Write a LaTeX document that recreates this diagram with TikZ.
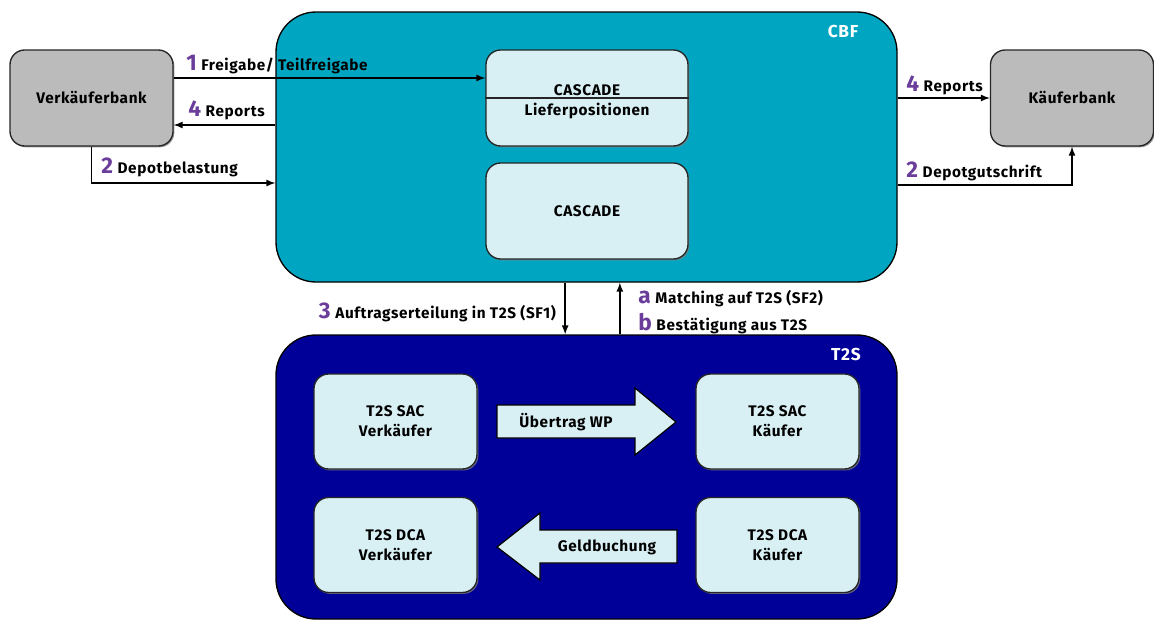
\documentclass[tikz,border=0pt]{standalone}
\usepackage{xcolor}
\usepackage{fontspec}
\setmainfont{Fira Sans}[LetterSpace=4]
\usepackage{tikz}
\usetikzlibrary{shadows, positioning, arrows}

\definecolor{cbfteal}{HTML}{00A6C1}
\definecolor{tsblue}{HTML}{000099}
\definecolor{paleblue}{HTML}{D8F0F4}
\definecolor{bankgray}{HTML}{BBBBBB}
\definecolor{steppurple}{HTML}{6A3D9A}
\newcommand{\stepno}[1]{{\fontsize{17}{18}\selectfont\color{steppurple}#1}\hspace{3.5pt}}

\tikzset{
  bank/.style={draw=black!85, line width=1pt, fill=bankgray, rounded corners=11pt,
    minimum width=122.25pt, minimum height=72pt,
    drop shadow={shadow xshift=1pt, shadow yshift=-1pt, opacity=0.8}},
  inner/.style={draw=black!85, line width=1pt, fill=paleblue, rounded corners=11pt,
    align=center,
    drop shadow={shadow xshift=1pt, shadow yshift=-1pt, opacity=0.8}},
  area/.style={draw=black, line width=1pt, rounded corners=30pt,
    minimum width=465.75pt},
  flow/.style={-latex, line width=1.3pt},
  lbl/.style={anchor=base west, inner sep=0pt},
}

\begin{document}
\begin{tikzpicture}[x=0.75pt, y=-0.75pt, font=\bfseries\fontsize{11.5}{15}\selectfont]
  \useasboundingbox (0,0) rectangle (1154,621);
  \begin{scope}
    \clip (0,0) rectangle (1154,621);
    % the two systems
    \node[area, fill=cbfteal, minimum height=202.5pt] (cbf) at (586.5,147) {};
    \node[area, fill=tsblue, minimum height=213pt] (t2s) at (586.5,477) {};
  \end{scope}
  \node[text=white, anchor=base, font=\bfseries\fontsize{13}{15}\selectfont] (cbflabel) at (843,37) {CBF};
  \node[text=white, anchor=base, font=\bfseries\fontsize{13}{15}\selectfont] (t2slabel) at (846,360) {T2S};

  % banks
  \node[bank] (verk) at (91.5,98) {Verkäuferbank};
  \node[bank] (kaeuf) at (1072,98) {Käuferbank};

  % CASCADE
  \node[inner, minimum width=151.5pt, minimum height=72pt] (cascl) at (587,98) {};
  \draw[line width=0.9pt, black!85] (cascl.west) -- (cascl.east);
  \node[anchor=base, inner sep=0pt] (casctop) at (587,95) {CASCADE};
  \node[anchor=base, inner sep=0pt] (cascbot) at (587,115) {Lieferpositionen};
  \node[inner, minimum width=151.5pt, minimum height=72pt] (casc) at (587,211) {CASCADE};

  % T2S accounts
  \node[inner, minimum width=122.25pt, minimum height=71.25pt] (sacv) at (395.5,421.5) {T2S SAC\\Verkäufer};
  \node[inner, minimum width=122.25pt, minimum height=71.25pt] (sack) at (777.5,421.5) {T2S SAC\\Käufer};
  \node[inner, minimum width=122.25pt, minimum height=71.25pt] (dcav) at (395.5,545) {T2S DCA\\Verkäufer};
  \node[inner, minimum width=122.25pt, minimum height=71.25pt] (dcak) at (777.5,545) {T2S DCA\\Käufer};

  % block arrows
  \draw[fill=paleblue, line width=0.9pt] (497,405) -- (635,405) -- (635,388) -- (676,422)
    -- (635,455) -- (635,438) -- (497,438) -- cycle;
  \node (uebertrag) at (566,422) {Übertrag WP};
  \draw[fill=paleblue, line width=0.9pt] (677,530) -- (540,530) -- (540,513) -- (497,547)
    -- (540,580) -- (540,563) -- (677,563) -- cycle;
  \node (geld) at (607,547) {Geldbuchung};

  % flows
  \draw[flow] ([yshift=15pt]verk.east) -- ([yshift=15pt]cascl.west);
  \node[lbl] at (186,70) {\stepno{1}Freigabe/ Teilfreigabe};
  \coordinate (rep) at ([yshift=-20.25pt]verk.east);
  \draw[flow] (rep -| cbf.west) -- (rep);
  \node[lbl] at (188,116) {\stepno{4}Reports};
  \draw[flow] (verk.south) |- ([yshift=-27pt]cbf.west);
  \node[lbl] at (101,173) {\stepno{2}Depotbelastung};

  \draw[flow] (cbf.east |- kaeuf.west) -- (kaeuf.west);
  \node[lbl] at (906,91) {\stepno{4}Reports};
  \draw[flow] ([yshift=-28.5pt]cbf.east) -| (kaeuf.south);
  \node[lbl] at (906,177) {\stepno{2}Depotgutschrift};

  \draw[flow] ([xshift=-16pt]cbf.south) -- ([xshift=-16pt]t2s.north);
  \node[lbl, anchor=base east] at (556,318) {\stepno{3}Auftragserteilung in T2S (SF1)};
  \draw[flow] ([xshift=25pt]t2s.north) -- ([xshift=25pt]cbf.south);
  \node[lbl] at (638,303) {\stepno{a}Matching auf T2S (SF2)};
  \node[lbl] at (638,330) {\stepno{b}Bestätigung aus T2S};
\end{tikzpicture}
\end{document}
